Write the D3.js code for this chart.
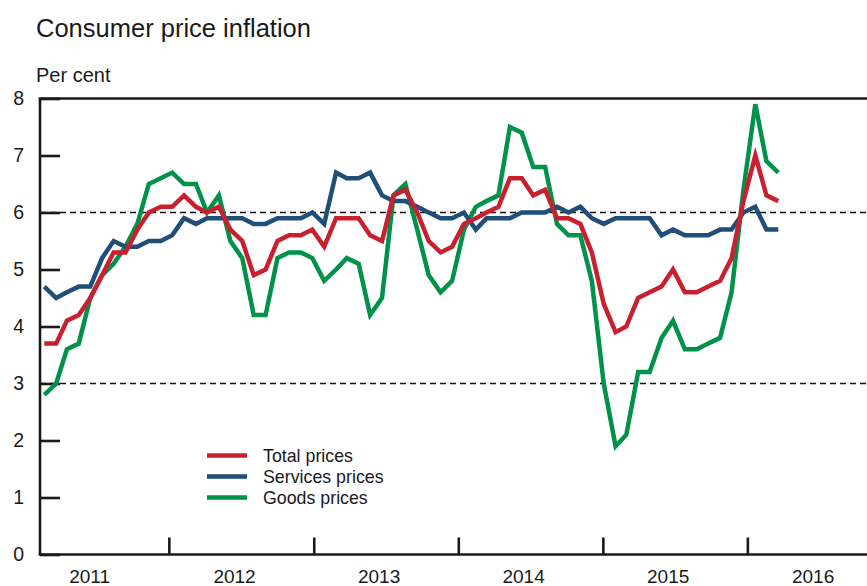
<!DOCTYPE html>
<html>
<head>
<meta charset="utf-8">
<script src="https://cdn.jsdelivr.net/npm/d3@7"></script>
<style>
    body{ margin: 0; background: #fff; }
    svg{ display: block; font-family: 'Liberation Sans', Arial, sans-serif; }
</style>
</head>
<body>
<svg id="chart" width="867" height="586"></svg>
<script>

// monthly data, Jan 2011 .. Apr 2016
var first_month = new Date(2011, 0, 1);
var year_labels = ['2011', '2012', '2013', '2014', '2015', '2016'];
var y_ticks = [0, 1, 2, 3, 4, 5, 6, 7, 8];
var target_band = [3, 6];
var series_names = ['Total prices', 'Services prices', 'Goods prices'];

var total_prices = [
    3.7, 3.7, 4.1, 4.2, 4.5, 4.9, 5.3, 5.3, 5.7, 6.0, 6.1, 6.1,
    6.3, 6.1, 6.0, 6.1, 5.7, 5.5, 4.9, 5.0, 5.5, 5.6, 5.6, 5.7,
    5.4, 5.9, 5.9, 5.9, 5.6, 5.5, 6.3, 6.4, 6.0, 5.5, 5.3, 5.4,
    5.8, 5.9, 6.0, 6.1, 6.6, 6.6, 6.3, 6.4, 5.9, 5.9, 5.8, 5.3,
    4.4, 3.9, 4.0, 4.5, 4.6, 4.7, 5.0, 4.6, 4.6, 4.7, 4.8, 5.2,
    6.2, 7.0, 6.3, 6.2
];

var services_prices = [
    4.7, 4.5, 4.6, 4.7, 4.7, 5.2, 5.5, 5.4, 5.4, 5.5, 5.5, 5.6,
    5.9, 5.8, 5.9, 5.9, 5.9, 5.9, 5.8, 5.8, 5.9, 5.9, 5.9, 6.0,
    5.8, 6.7, 6.6, 6.6, 6.7, 6.3, 6.2, 6.2, 6.1, 6.0, 5.9, 5.9,
    6.0, 5.7, 5.9, 5.9, 5.9, 6.0, 6.0, 6.0, 6.1, 6.0, 6.1, 5.9,
    5.8, 5.9, 5.9, 5.9, 5.9, 5.6, 5.7, 5.6, 5.6, 5.6, 5.7, 5.7,
    6.0, 6.1, 5.7, 5.7
];

var goods_prices = [
    2.8, 3.0, 3.6, 3.7, 4.5, 4.9, 5.1, 5.4, 5.8, 6.5, 6.6, 6.7,
    6.5, 6.5, 6.0, 6.3, 5.5, 5.2, 4.2, 4.2, 5.2, 5.3, 5.3, 5.2,
    4.8, 5.0, 5.2, 5.1, 4.2, 4.5, 6.3, 6.5, 5.7, 4.9, 4.6, 4.8,
    5.7, 6.1, 6.2, 6.3, 7.5, 7.4, 6.8, 6.8, 5.8, 5.6, 5.6, 4.8,
    3.0, 1.9, 2.1, 3.2, 3.2, 3.8, 4.1, 3.6, 3.6, 3.7, 3.8, 4.6,
    6.4, 7.9, 6.9, 6.7
];

/**************************************************************************************/

function Chart(){}

Chart.prototype.setup = function(svg_id){
    this.svg = d3.select('#' + svg_id);
    this.left = 40;
    this.right = 867;
    this.ink = '#1a1a1a';

    this.months = d3.timeMonth.range(first_month, d3.timeMonth.offset(first_month, total_prices.length));
    this.series = [
        { name: series_names[0], values: total_prices, color: '#c8202f' },
        { name: series_names[1], values: services_prices, color: '#1f4e79' },
        { name: series_names[2], values: goods_prices, color: '#00914a' }
    ];

    this.y = d3.scaleLinear().domain([0, 8]).range([554.5, 98.5]);
    // data points sit a little off the year ticks in the original, so two time scales
    this.x = d3.scaleTime().domain([this.months[0], this.months[this.months.length - 1]]).range([44.3, 778.3]);
    this.x_years = d3.scaleTime().domain([new Date(2011, 0, 1), new Date(2017, 0, 1)]).range([24.3, 892.3]);

    this.draw_titles();
    this.draw_axes();
    this.draw_lines();
    this.draw_legend();
}

/**************************************************************************************/

Chart.prototype.draw_titles = function(){
    this.svg.append('text').attr('x', 36).attr('y', 37)
        .style('font-size', '25.5px').style('fill', this.ink)
        .text('Consumer price inflation');
    this.svg.append('text').attr('x', 36).attr('y', 82)
        .style('font-size', '20px').style('fill', this.ink)
        .text('Per cent');
}

/**************************************************************************************/

Chart.prototype.draw_axes = function(){
    var self = this;
    var y = this.y;

    // dashed target band
    this.svg.selectAll('.band').data(target_band).enter().append('line')
        .attr('class', 'band')
        .attr('x1', this.left).attr('x2', this.right)
        .attr('y1', function(d){ return y(d); }).attr('y2', function(d){ return y(d); })
        .style('stroke', '#111').style('stroke-width', 1.3).style('stroke-dasharray', '6,4');

    var y_axis = this.svg.append('g').attr('transform', 'translate(' + this.left + ',0)')
        .call(d3.axisLeft(y).tickValues(y_ticks).tickSizeInner(-20).tickSizeOuter(0).tickPadding(16));
    y_axis.select('.domain').remove();
    y_axis.selectAll('line').style('stroke', this.ink).style('stroke-width', 2.6);
    y_axis.selectAll('text').style('font-size', '19.5px').style('fill', this.ink).attr('font-family', null);

    var tick_years = year_labels.slice(1).map(function(d){ return new Date(+d, 0, 1); });
    var x_axis = this.svg.append('g').attr('transform', 'translate(0,' + y(0) + ')')
        .call(d3.axisBottom(this.x_years).tickValues(tick_years).tickSizeInner(-17).tickSizeOuter(0).tickFormat(''));
    x_axis.select('.domain').remove();
    x_axis.selectAll('line').style('stroke', this.ink).style('stroke-width', 2.6);

    this.svg.selectAll('.year').data(year_labels).enter().append('text')
        .attr('class', 'year')
        .attr('x', function(d){ return self.x_years(new Date(+d, 5, 15)); })
        .attr('y', 583)
        .attr('text-anchor', 'middle')
        .style('font-size', '19px').style('fill', this.ink)
        .text(function(d){ return d; });

    // frame: left, top and bottom
    var frame = [
        [this.left, y(8), this.left, y(0)],
        [this.left - 1.3, y(8), this.right, y(8)],
        [this.left - 1.3, y(0), this.right, y(0)]
    ];
    this.svg.selectAll('.frame').data(frame).enter().append('line')
        .attr('class', 'frame')
        .attr('x1', function(d){ return d[0]; }).attr('y1', function(d){ return d[1]; })
        .attr('x2', function(d){ return d[2]; }).attr('y2', function(d){ return d[3]; })
        .style('stroke', this.ink).style('stroke-width', 2.6);
}

/**************************************************************************************/

Chart.prototype.draw_lines = function(){
    var self = this;
    var line = d3.line()
        .x(function(d, i){ return self.x(self.months[i]); })
        .y(function(d){ return self.y(d); });

    // goods underneath, total on top
    var order = [this.series[2], this.series[1], this.series[0]];
    this.svg.selectAll('.series').data(order).enter().append('path')
        .attr('class', 'series')
        .attr('d', function(d){ return line(d.values); })
        .style('fill', 'none')
        .style('stroke', function(d){ return d.color; })
        .style('stroke-width', 4.5)
        .style('stroke-linejoin', 'miter');
}

/**************************************************************************************/

Chart.prototype.draw_legend = function(){
    var rows = [455.5, 476.5, 497.5];
    var g = this.svg.append('g');

    var item = g.selectAll('.legend').data(this.series).enter().append('g')
        .attr('class', 'legend')
        .attr('transform', function(d, i){ return 'translate(207,' + rows[i] + ')'; });

    item.append('line').attr('x1', 0).attr('x2', 40).attr('y1', 0).attr('y2', 0)
        .style('stroke', function(d){ return d.color; }).style('stroke-width', 4.5);
    item.append('text').attr('x', 56).attr('y', 0).attr('dy', '0.35em')
        .style('font-size', '17.8px').style('fill', this.ink)
        .text(function(d){ return d.name; });
}

/**************************************************************************************/

var chart = new Chart();
chart.setup('chart');

</script>
</body>
</html>
